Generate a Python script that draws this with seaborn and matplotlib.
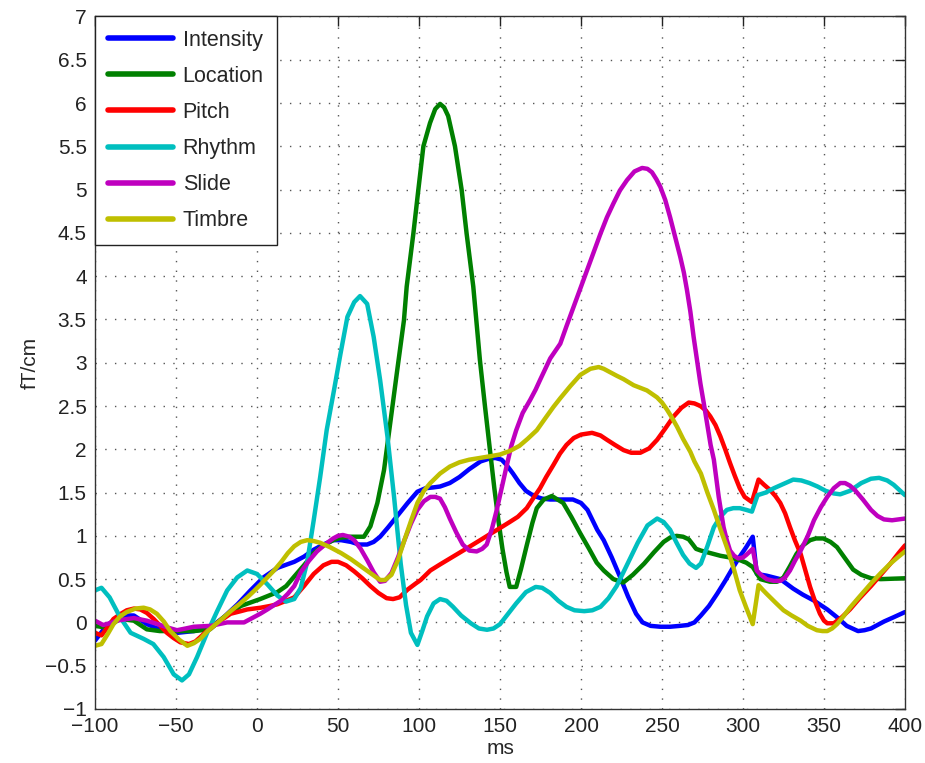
import numpy as np
import pandas as pd
import matplotlib
matplotlib.use("Agg")
import matplotlib.pyplot as plt
import seaborn as sns

# ---------------- data ----------------
intensity_t = [-100, -93, -84.5, -76, -68, -60, -49, -39, -29, -20.5, -12, -4, 4, 12.6, 23, 29, 35, 41, 47, 52,
               58, 63, 68, 72, 76, 81, 87, 93, 99, 104, 109, 113, 119, 125, 131, 138, 143, 147, 151, 154,
               158, 162, 166, 171, 176, 181, 188, 195, 200, 204, 210, 214, 219, 224, 229, 234, 238, 243,
               249, 255, 261, 266, 270, 274, 279, 284, 289, 294, 298, 302, 306, 308.5, 314.6, 323, 331,
               337, 344, 352, 358, 364, 371, 375, 379, 387, 393, 400]
intensity_v = [-0.21, -0.04, 0.08, 0.08, -0.02, -0.08, -0.12, -0.10, -0.06, 0.06, 0.21, 0.37, 0.52, 0.63,
               0.70, 0.76, 0.84, 0.90, 0.95, 0.95, 0.93, 0.90, 0.90, 0.93, 0.99, 1.10, 1.24, 1.38, 1.51,
               1.55, 1.56, 1.57, 1.61, 1.68, 1.77, 1.86, 1.89, 1.90, 1.88, 1.82, 1.72, 1.61, 1.52, 1.46,
               1.43, 1.42, 1.42, 1.42, 1.38, 1.30, 1.07, 0.95, 0.75, 0.53, 0.30, 0.10, 0.0, -0.04, -0.05,
               -0.05, -0.04, -0.03, 0.0, 0.08, 0.19, 0.33, 0.48, 0.64, 0.76, 0.87, 0.99, 0.56, 0.54, 0.50,
               0.39, 0.32, 0.25, 0.15, 0.06, -0.04, -0.10, -0.09, -0.07, 0.01, 0.06, 0.12]

location_t = [-100, -93, -84.5, -76, -68, -60, -50, -39, -29, -20.5, -10, 2, 12.6, 18, 23, 29, 35, 41, 47,
              52, 58, 66, 70, 74.3, 78.4, 82.5, 86.6, 90.7, 92.4, 96.5, 99.6, 102.7, 106.8, 110, 113,
              115.5, 118, 122.2, 126.3, 129.4, 133.5, 137.6, 140.7, 143.8, 146.5, 149, 151.5, 154, 156,
              160, 163, 166.5, 170, 172.7, 177, 182, 189, 194, 199.5, 205, 209.7, 214, 220, 226, 232,
              239, 245, 251, 255, 259, 263, 266.5, 269, 271, 274, 280, 286, 292, 298, 302, 306, 310.7,
              316.7, 321, 325, 329, 333, 337, 341.4, 345, 349.6, 354, 358, 363, 368, 373, 379, 385, 400]
location_v = [-0.04, -0.06, 0.04, 0.02, -0.08, -0.10, -0.10, -0.10, -0.08, 0.06, 0.19, 0.27, 0.35, 0.42,
              0.53, 0.66, 0.80, 0.89, 0.95, 0.98, 0.99, 0.99, 1.11, 1.38, 1.76, 2.34, 2.92, 3.49, 3.88,
              4.49, 5.0, 5.50, 5.77, 5.93, 5.99, 5.95, 5.85, 5.5, 5.0, 4.49, 3.88, 3.03, 2.5, 1.99, 1.55,
              1.18, 0.85, 0.58, 0.41, 0.41, 0.62, 0.89, 1.15, 1.32, 1.42, 1.46, 1.38, 1.22, 1.03, 0.85,
              0.69, 0.60, 0.50, 0.46, 0.55, 0.68, 0.81, 0.93, 0.98, 1.0, 0.99, 0.96, 0.90, 0.85, 0.83,
              0.80, 0.77, 0.75, 0.72, 0.69, 0.64, 0.50, 0.47, 0.47, 0.52, 0.65, 0.79, 0.89, 0.95, 0.97,
              0.97, 0.93, 0.87, 0.74, 0.61, 0.55, 0.51, 0.50, 0.51]

pitch_t = [-100, -96, -92, -88.6, -84, -80.4, -76, -72, -68, -63.8, -59.7, -55.6, -51.5, -47.3, -42, -38,
           -35, -31, -26.7, -21, -16.3, -10, -6, 2.3, 8, 12.6, 18, 23, 29, 35, 41, 46, 50, 55, 60, 65, 70,
           75, 80, 84, 88, 93, 98, 101, 107, 113, 121, 129, 136, 143.8, 150, 156, 161, 166.5, 170, 174.7,
           178.5, 183, 187, 191, 195.5, 200, 206.8, 212, 216, 221, 226.3, 231, 236.6, 242, 247, 252,
           257.2, 262, 266.5, 270, 273.7, 277, 279.8, 283, 286, 289, 292, 295, 298, 301, 305.5, 309.6,
           313, 316.7, 320, 323, 326, 329, 332, 335.6, 338.5, 341.4, 344.5, 347.5, 350, 352, 356, 361,
           366, 372, 379, 385, 391, 396, 400]
pitch_v = [-0.12, -0.15, -0.05, 0.04, 0.10, 0.14, 0.16, 0.15, 0.11, 0.04, -0.04, -0.12, -0.18, -0.23,
           -0.25, -0.22, -0.17, -0.10, -0.04, 0.04, 0.10, 0.13, 0.15, 0.17, 0.19, 0.21, 0.25, 0.29, 0.42,
           0.56, 0.66, 0.70, 0.70, 0.66, 0.59, 0.51, 0.42, 0.34, 0.28, 0.27, 0.29, 0.38, 0.45, 0.49, 0.60,
           0.67, 0.76, 0.85, 0.93, 1.02, 1.09, 1.16, 1.22, 1.32, 1.42, 1.55, 1.68, 1.82, 1.95, 2.05, 2.13,
           2.17, 2.19, 2.16, 2.11, 2.05, 1.99, 1.96, 1.96, 2.01, 2.11, 2.24, 2.38, 2.48, 2.54, 2.53, 2.50,
           2.45, 2.38, 2.28, 2.15, 2.0, 1.84, 1.69, 1.55, 1.45, 1.39, 1.65, 1.59, 1.53, 1.46, 1.38, 1.26,
           1.10, 0.95, 0.79, 0.60, 0.41, 0.24, 0.10, 0.02, -0.01, -0.01, 0.06, 0.15, 0.28, 0.42, 0.55,
           0.68, 0.80, 0.89]

rhythm_t = [-100, -96, -91, -84.5, -78, -70, -64, -57.6, -51.4, -46.3, -42, -37, -31, -24.6, -18.4, -12.2,
            -6, 0, 6.4, 12.6, 17.8, 23, 27, 31, 35, 39, 43, 47.5, 51.6, 55.8, 60, 63.6, 68, 72, 76, 80.5,
            84.6, 88.7, 92, 95, 99, 102, 105, 109, 113, 117, 121, 126, 132, 137, 142, 146, 150, 155, 160,
            166, 172, 176, 181, 186, 191, 196, 202, 207, 212, 217, 222, 228, 235, 241, 247, 251, 255, 259,
            263, 267, 271, 274, 278, 282, 286, 290, 294, 298, 302, 305.5, 309, 314, 319, 325, 331, 336,
            341, 346, 351, 356, 360, 366, 373, 379, 384, 389, 393, 400]
rhythm_v = [0.37, 0.40, 0.29, 0.06, -0.12, -0.19, -0.25, -0.40, -0.60, -0.67, -0.60, -0.40, -0.13, 0.13,
            0.37, 0.52, 0.60, 0.56, 0.44, 0.31, 0.24, 0.27, 0.40, 0.70, 1.18, 1.68, 2.22, 2.68, 3.11, 3.53,
            3.70, 3.77, 3.68, 3.30, 2.80, 2.15, 1.45, 0.68, 0.20, -0.12, -0.26, -0.10, 0.07, 0.22, 0.27,
            0.25, 0.18, 0.08, -0.01, -0.07, -0.085, -0.07, -0.02, 0.10, 0.22, 0.35, 0.41, 0.40, 0.34,
            0.25, 0.18, 0.14, 0.13, 0.14, 0.18, 0.28, 0.42, 0.65, 0.92, 1.12, 1.20, 1.16, 1.07, 0.92,
            0.78, 0.68, 0.63, 0.68, 0.88, 1.10, 1.22, 1.30, 1.32, 1.32, 1.30, 1.28, 1.47, 1.50, 1.55,
            1.60, 1.65, 1.64, 1.61, 1.57, 1.52, 1.49, 1.48, 1.52, 1.61, 1.66, 1.67, 1.64, 1.59, 1.47]

slide_t = [-100, -95, -91, -86.6, -80, -76, -68, -59.7, -55, -49.4, -44, -39, -28.7, -18.4, -8, -2, 2, 6.4,
           10.5, 14.7, 19, 23, 27, 32, 37, 42, 47, 50, 53, 57, 60, 64, 68, 72, 76, 79, 83, 87, 91, 95, 99,
           103, 107, 110, 113, 116, 119, 123, 127, 131, 135.6, 139, 141.8, 145, 148, 151, 154, 157, 160,
           164, 168.6, 172, 174.7, 178, 181, 187.2, 191, 195.5, 199.6, 203.7, 208, 212, 216, 220, 224,
           228.4, 233, 237.7, 241, 243.8, 246.5, 249, 252, 255, 258, 261.3, 263.5, 265.4, 267.5, 269.5,
           271.6, 273.7, 275.8, 277.8, 280, 282, 285, 288, 290, 292, 294.5, 297, 300, 302, 306, 308.5,
           311, 314.6, 319, 323, 326, 329, 332, 335.6, 340, 343.8, 348, 352, 356, 360, 363, 366, 369,
           374, 379, 383, 387, 392, 396, 400]
slide_v = [0.02, -0.03, -0.01, 0.02, 0.04, 0.05, 0.02, -0.03, -0.06, -0.09, -0.07, -0.05, -0.04, 0.0, 0.0,
           0.06, 0.10, 0.15, 0.20, 0.25, 0.33, 0.42, 0.58, 0.71, 0.82, 0.90, 0.97, 1.00, 1.01, 0.99, 0.95,
           0.85, 0.72, 0.58, 0.47, 0.48, 0.57, 0.75, 0.95, 1.14, 1.30, 1.40, 1.45, 1.45, 1.43, 1.33, 1.20,
           1.04, 0.90, 0.83, 0.82, 0.85, 0.90, 1.08, 1.30, 1.55, 1.80, 2.04, 2.22, 2.42, 2.57, 2.69, 2.80,
           2.93, 3.05, 3.22, 3.42, 3.65, 3.86, 4.07, 4.29, 4.49, 4.68, 4.84, 4.99, 5.11, 5.21, 5.25, 5.24,
           5.20, 5.12, 5.03, 4.88, 4.68, 4.46, 4.22, 4.04, 3.84, 3.59, 3.30, 3.03, 2.76, 2.53, 2.30, 2.05,
           1.88, 1.45, 1.10, 0.95, 0.83, 0.77, 0.74, 0.75, 0.78, 0.85, 0.60, 0.55, 0.50, 0.48, 0.48, 0.52,
           0.60, 0.71, 0.83, 1.0, 1.18, 1.33, 1.45, 1.55, 1.61, 1.61, 1.58, 1.53, 1.42, 1.30, 1.23, 1.19,
           1.18, 1.19, 1.20]

timbre_t = [-100, -96, -92, -88.6, -84.5, -80.4, -75, -70, -66, -61.8, -57.5, -53.5, -48, -43, -39, -35,
            -31, -26.7, -21, -16.3, -11, -6, -2, 2.3, 6.4, 10.5, 15, 19, 23, 27, 31, 35, 39, 45, 52, 58,
            64, 70, 76, 79, 83, 87, 91, 95, 99, 103, 107, 113, 119, 125, 131, 137.6, 144, 150, 156, 162,
            167, 172.7, 178, 183, 187.2, 193.4, 199.6, 205.8, 210.9, 214, 218, 222, 226.3, 232.5, 240.7,
            246.9, 250, 253, 256, 259.3, 263, 267.5, 270, 274, 278, 282, 286, 290, 294, 298, 302, 306,
            309.6, 312, 314.6, 320, 325, 330, 335.6, 340, 345.6, 349, 352, 355, 358, 362, 366, 372, 379,
            385, 391, 396, 400]
timbre_v = [-0.27, -0.25, -0.13, -0.02, 0.07, 0.12, 0.16, 0.17, 0.15, 0.10, 0.01, -0.10, -0.20, -0.27,
            -0.24, -0.19, -0.11, -0.04, 0.05, 0.13, 0.21, 0.29, 0.36, 0.44, 0.52, 0.60, 0.70, 0.80, 0.88,
            0.93, 0.95, 0.94, 0.92, 0.87, 0.80, 0.73, 0.65, 0.57, 0.49, 0.49, 0.55, 0.72, 0.95, 1.17, 1.38,
            1.52, 1.61, 1.72, 1.80, 1.85, 1.88, 1.90, 1.92, 1.94, 1.98, 2.04, 2.12, 2.22, 2.36, 2.49, 2.59,
            2.73, 2.86, 2.93, 2.95, 2.93, 2.89, 2.85, 2.81, 2.74, 2.68, 2.60, 2.54, 2.46, 2.37, 2.26, 2.12,
            1.97, 1.86, 1.72, 1.50, 1.30, 1.08, 0.87, 0.64, 0.37, 0.17, -0.02, 0.43, 0.38, 0.33, 0.23,
            0.14, 0.08, 0.02, -0.04, -0.09, -0.10, -0.10, -0.07, -0.02, 0.07, 0.17, 0.30, 0.45, 0.57,
            0.68, 0.76, 0.82]

series_names = ["Intensity", "Location", "Pitch", "Rhythm", "Slide", "Timbre"]
series_t = [intensity_t, location_t, pitch_t, rhythm_t, slide_t, timbre_t]
series_v = [intensity_v, location_v, pitch_v, rhythm_v, slide_v, timbre_v]
colors = ["#0000ff", "#008000", "#ff0000", "#00bfbf", "#bf00bf", "#bfbf00"]

x_ticks = list(range(-100, 401, 50))
y_ticks = [-1, -0.5, 0, 0.5, 1, 1.5, 2, 2.5, 3, 3.5, 4, 4.5, 5, 5.5, 6, 6.5, 7]

df = pd.concat([pd.DataFrame({"ms": t, "val": v, "series": n})
                for n, t, v in zip(series_names, series_t, series_v)], ignore_index=True)

# ---------------- drawing ----------------
sns.set_theme(style="white")
plt.rcParams["font.family"] = ["Liberation Sans", "DejaVu Sans"]

fig = plt.figure(figsize=(9.25, 7.63), dpi=100)
ax = fig.add_axes([0.1027, 0.0708, 0.8757, 0.9076])

sns.lineplot(data=df, x="ms", y="val", hue="series", hue_order=series_names,
             palette=dict(zip(series_names, colors)), estimator=None, sort=True,
             linewidth=3.2, ax=ax)
for ln in ax.get_lines():
    ln.set_solid_joinstyle("round")
    ln.set_solid_capstyle("round")

ax.set_xlim(-100, 400)
ax.set_ylim(-1, 7)
ax.set_xticks(x_ticks)
ax.set_yticks(y_ticks)
ax.set_yticklabels([("%g" % y).replace("-", "\u2212") for y in y_ticks])
ax.set_xticklabels([("%g" % x).replace("-", "\u2212") for x in x_ticks])
ax.grid(True, linestyle=(0, (1, 6)), color="#555555", linewidth=1.0)
ax.tick_params(direction="in", length=7, width=1, top=True, right=True,
               labelsize=15, colors="#222222", pad=6)
for s in ax.spines.values():
    s.set_visible(True)
    s.set_color("#333333")
    s.set_linewidth(1.0)

ax.set_xlabel("ms", fontsize=15, labelpad=2)
ax.set_ylabel("fT/cm", fontsize=15, labelpad=4)

leg = ax.legend(loc="upper left", fontsize=15.5, frameon=True, fancybox=False,
                handlelength=3.0, handletextpad=0.45, labelspacing=0.70,
                borderaxespad=0, borderpad=0.62, framealpha=1)
leg.get_frame().set_edgecolor("#222222")
leg.get_frame().set_linewidth(1.0)
for h in leg.get_lines():
    h.set_linewidth(4)

fig.savefig("out.png", dpi=100)
